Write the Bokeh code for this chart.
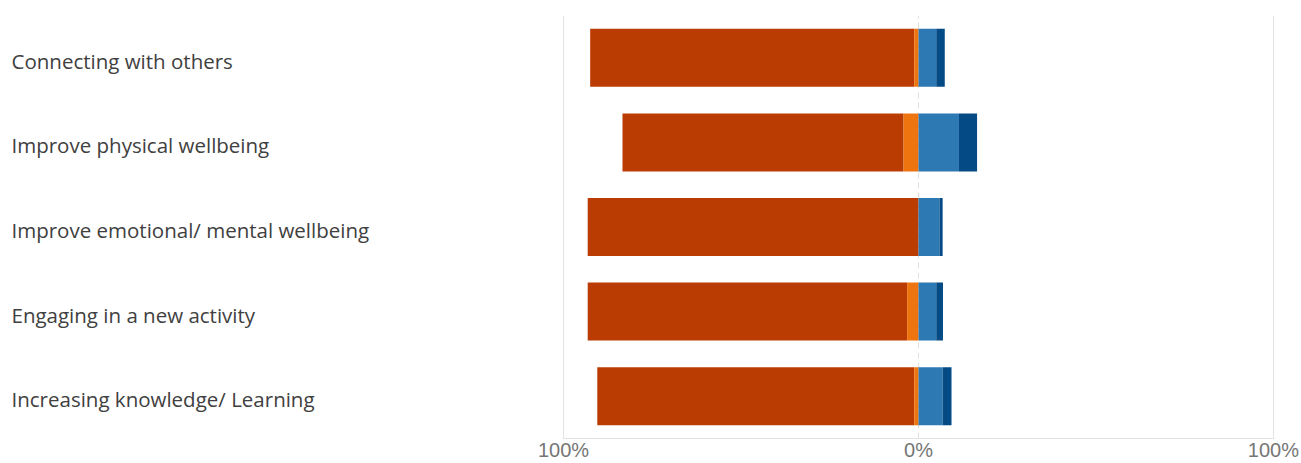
from bokeh.plotting import figure
from bokeh.layouts import row
from bokeh.models import ColumnDataSource, FactorRange, Range1d, FixedTicker, Grid
from bokeh.core.properties import value
from bokeh.embed import file_html
from bokeh.resources import INLINE

categories = ["Connecting with others", "Improve physical wellbeing",
              "Improve emotional/ mental wellbeing", "Engaging in a new activity",
              "Increasing knowledge/ Learning"]
# left of 0, from zero outwards: orange then dark red
neg_far = [91.3, 79.2, 93.2, 90.0, 89.3]      # dark red
neg_near = [1.2, 4.2, 0.0, 3.2, 1.2]          # orange
# right of 0: blue then dark blue
pos_near = [5.0, 11.4, 5.9, 5.0, 6.8]         # blue
pos_far = [2.4, 5.1, 0.9, 1.9, 2.5]           # dark blue
tick_values = [-100, 0, 100]
tick_labels = ["100%", "0%", "100%"]

colors = {"neg_far": "#BA3C02", "neg_near": "#EE7410", "pos_near": "#2D79B4", "pos_far": "#044A84"}
FONT = "Open Sans"
TICK_FONT = "Liberation Sans"
H = 463
TOP = 15
LEFT_W = 533
GAP = 29


def style_xaxis(fig, visible_text=True):
    fig.xaxis.ticker = FixedTicker(ticks=tick_values)
    fig.xaxis.major_label_overrides = {v: t for v, t in zip(tick_values, tick_labels)}
    fig.xaxis.major_tick_line_color = None
    fig.xaxis.minor_tick_line_color = None
    fig.xaxis.major_tick_out = 0
    fig.xaxis.major_tick_in = 0
    fig.xaxis.major_label_standoff = 0
    fig.xaxis.axis_line_color = "#E3E3E3" if visible_text else None
    fig.xaxis.major_label_text_color = "#767676" if visible_text else None
    fig.xaxis.major_label_text_font = TICK_FONT
    fig.xaxis.major_label_text_font_size = "20px"


ys = list(reversed(categories))
pad = 0.3

# ---- left panel: category labels ----
lab = figure(width=LEFT_W, height=H, y_range=FactorRange(*ys),
             x_range=Range1d(tick_values[0], tick_values[-1]),
             output_backend="svg", toolbar_location=None,
             min_border_left=0, min_border_right=0, min_border_top=TOP, min_border_bottom=0)
lab.outline_line_color = None
lab.yaxis.visible = False
lab.grid.visible = False
style_xaxis(lab, visible_text=False)
lab_src = ColumnDataSource(dict(cat=categories, x=[lab.x_range.start] * len(categories)))
lab.text(x="x", y="cat", text="cat", source=lab_src, x_offset=11, y_offset=3,
         text_align="left", text_baseline="middle",
         text_font=value(FONT), text_font_size="20.5px", text_color="#404040")

# ---- right panel: bars ----
p = figure(width=1299 - LEFT_W, height=H, y_range=lab.y_range,
           x_range=Range1d(tick_values[0] - pad, tick_values[-1] + pad),
           output_backend="svg", toolbar_location=None,
           min_border_left=GAP, min_border_right=25, min_border_top=TOP, min_border_bottom=0)
p.outline_line_color = None

a0 = [-n for n in neg_near]
a1 = [-(n + f) for n, f in zip(neg_near, neg_far)]
b0 = pos_near
b1 = [n + f for n, f in zip(pos_near, pos_far)]
zeros = [0] * len(categories)
src = ColumnDataSource(dict(cat=categories, a0=a0, a1=a1, b0=b0, b1=b1, z=zeros))
h = 0.685
p.hbar(y="cat", left="a1", right="a0", height=h, source=src, fill_color=colors["neg_far"], line_color=None)
p.hbar(y="cat", left="a0", right="z", height=h, source=src, fill_color=colors["neg_near"], line_color=None)
p.hbar(y="cat", left="z", right="b0", height=h, source=src, fill_color=colors["pos_near"], line_color=None)
p.hbar(y="cat", left="b0", right="b1", height=h, source=src, fill_color=colors["pos_far"], line_color=None)

p.yaxis.visible = False
p.ygrid.visible = False
style_xaxis(p)

p.xgrid.ticker = FixedTicker(ticks=[tick_values[0], tick_values[-1]])
p.xgrid.grid_line_color = "#E3E3E3"
p.xgrid.level = "underlay"
p.add_layout(Grid(dimension=0, ticker=FixedTicker(ticks=[tick_values[1]]),
                  grid_line_color="#E0E0E0", grid_line_dash="6 4", level="underlay"))

layout = row(lab, p)
open("out.html", "w").write(file_html(layout, INLINE))
